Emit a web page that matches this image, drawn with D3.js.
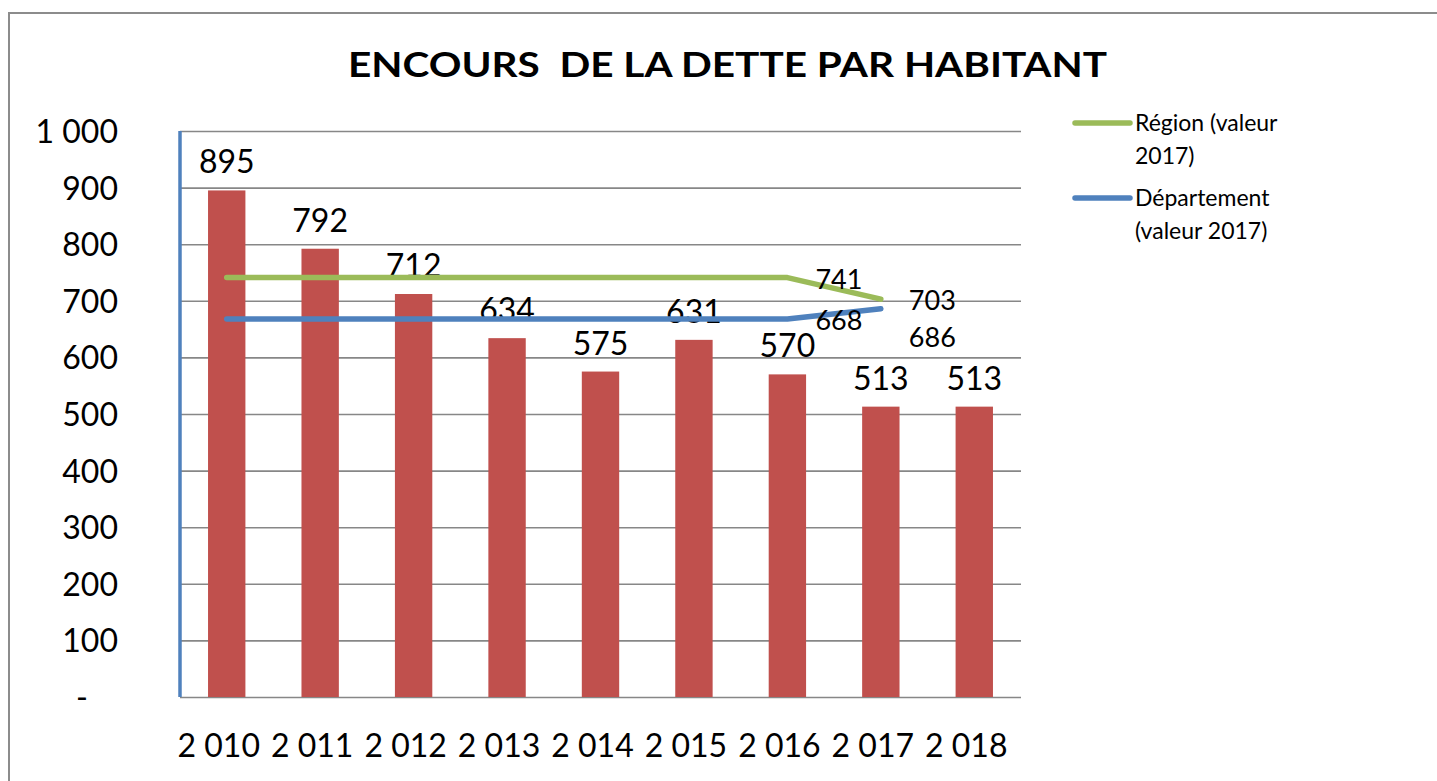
<!DOCTYPE html>
<html>
<head>
<meta charset="utf-8">
<script src="https://cdn.jsdelivr.net/npm/d3@7"></script>
<style>
  body { margin: 0; background: #fff; }
  svg text { font-family: Lato, "Open Sans", sans-serif; fill: #000; }
</style>
</head>
<body>
<svg id="chart" width="1437" height="781"></svg>
<script>
// data
var years = ["2 010", "2 011", "2 012", "2 013", "2 014", "2 015", "2 016", "2 017", "2 018"];
var encours = [895, 792, 712, 634, 575, 631, 570, 513, 513];
var region = [741, 741, 741, 741, 741, 741, 741, 703];
var departement = [668, 668, 668, 668, 668, 668, 668, 686];
var yTicks = [0, 100, 200, 300, 400, 500, 600, 700, 800, 900, 1000];
var legendItems = [
    {name: ["Région (valeur", "2017)"], color: "#9BBB59"},
    {name: ["Département", "(valeur 2017)"], color: "#4F81BD"}
];
// only the last two points of each line carry a label
var labelled = [6, 7];

var svg = d3.select("#chart");

// plot box (window.top is reserved, hence the prefix)
var plotLeft = 180, plotRight = 1021, plotTop = 131, plotBottom = 697;

var x = d3.scaleBand()
    .domain(years)
    .range([plotLeft, plotRight])
    .paddingInner(0.6)
    .paddingOuter(0.3);

var y = d3.scaleLinear()
    .domain([0, 1000])
    .range([plotBottom, plotTop]);

// outer frame (only top and left visible)
svg.append("path")
    .attr("d", "M9,781V13H1437")
    .attr("fill", "none")
    .attr("stroke", "#8c8c8c")
    .attr("stroke-width", 2);

// title
svg.append("text")
    .attr("x", 727.5)
    .attr("y", 77)
    .attr("text-anchor", "middle")
    .attr("textLength", 759)
    .attr("lengthAdjust", "spacingAndGlyphs")
    .style("white-space", "pre")
    .style("font-weight", "bold")
    .style("font-size", "35px")
    .text("ENCOURS  DE LA DETTE PAR HABITANT");

// gridlines
svg.append("g")
    .attr("class", "grid")
    .attr("transform", "translate(" + plotLeft + ",0)")
    .call(d3.axisLeft(y).tickValues(yTicks).tickSize(-(plotRight - plotLeft)).tickFormat(""))
    .call(function (g) {
        g.select(".domain").remove();
        g.selectAll("line").attr("stroke", "#878787").attr("stroke-width", 1.6);
    });

// y tick labels
svg.append("g")
    .attr("transform", "translate(118,0)")
    .call(d3.axisLeft(y).tickValues(yTicks).tickSize(0).tickPadding(0)
        .tickFormat(function (d) {
            return d === 0 ? "-" : d3.format(",")(d).replace(",", " ");
        }))
    .call(function (g) {
        g.select(".domain").remove();
        g.selectAll("text")
            .attr("dy", "0.36em")
            .style("font-size", "32px")
            .style("font-family", "Lato, sans-serif")
            .attr("dx", function (d) { return d === 0 ? -30 : 0; });
    });

// bars
svg.append("g")
    .selectAll("rect")
    .data(encours)
    .enter().append("rect")
    .attr("x", function (d, i) { return x(years[i]); })
    .attr("y", function (d) { return y(d); })
    .attr("width", x.bandwidth())
    .attr("height", function (d) { return y(0) - y(d); })
    .attr("fill", "#C0504D");

// bar labels
svg.append("g")
    .selectAll("text")
    .data(encours)
    .enter().append("text")
    .attr("x", function (d, i) { return x(years[i]) + x.bandwidth() / 2; })
    .attr("y", function (d) { return y(d) - 17; })
    .attr("text-anchor", "middle")
    .style("font-size", "32px")
    .text(function (d) { return d; });

// x axis labels
svg.append("g")
    .attr("transform", "translate(0," + plotBottom + ")")
    .call(d3.axisBottom(x).tickSize(0))
    .call(function (g) {
        g.select(".domain").remove();
        g.selectAll("text")
            .attr("y", 60)
            .attr("dy", 0)
            .attr("dx", -8)
            .style("font-size", "32px")
            .style("font-family", "Lato, sans-serif");
    });

// blue vertical axis line
svg.append("line")
    .attr("x1", plotLeft).attr("x2", plotLeft)
    .attr("y1", plotTop).attr("y2", plotBottom)
    .attr("stroke", "#4F81BD")
    .attr("stroke-width", 3.5);

// reference lines
var series = [
    {key: "reg", values: region, color: "#9BBB59"},
    {key: "dep", values: departement, color: "#4F81BD"}
];

var line = d3.line()
    .x(function (d, i) { return x(years[i]) + x.bandwidth() / 2; })
    .y(function (d) { return y(d); });

svg.append("g")
    .selectAll("path")
    .data(series)
    .enter().append("path")
    .attr("d", function (s) { return line(s.values); })
    .attr("fill", "none")
    .attr("stroke", function (s) { return s.color; })
    .attr("stroke-width", 5.5)
    .attr("stroke-linecap", "round")
    .attr("stroke-linejoin", "round");

series.forEach(function (s) {
    svg.append("g")
        .selectAll("text")
        .data(labelled)
        .enter().append("text")
        .attr("x", function (i) { return x(years[i]) + x.bandwidth() / 2 + 28; })
        .attr("y", function (i) {
            var nudge = (s.key === "dep" && i === 7) ? 27 : 0;
            return y(s.values[i]) + 11 + nudge;
        })
        .style("font-size", "27px")
        .text(function (i) { return s.values[i]; });
});

// legend
var legend = svg.append("g")
    .selectAll("g")
    .data(legendItems)
    .enter().append("g")
    .attr("transform", function (d, i) { return "translate(1075," + (123 + i * 75) + ")"; });

legend.append("line")
    .attr("x1", 0).attr("x2", 55)
    .attr("stroke", function (d) { return d.color; })
    .attr("stroke-width", 5.5)
    .attr("stroke-linecap", "round");

legend.append("text")
    .selectAll("tspan")
    .data(function (d) { return d.name; })
    .enter().append("tspan")
    .attr("x", 60)
    .attr("y", function (d, i) { return 8 + i * 33; })
    .style("font-size", "23px")
    .text(function (d) { return d; });
</script>
</body>
</html>
